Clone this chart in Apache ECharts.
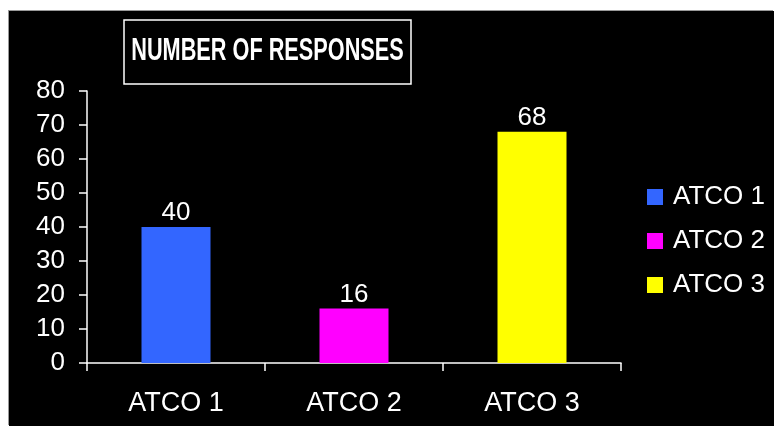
<!DOCTYPE html>
<html>
<head>
<meta charset="utf-8">
<script src="https://cdn.jsdelivr.net/npm/echarts@6/dist/echarts.min.js"></script>
<style>
  html, body { margin: 0; padding: 0; background: #fff; }
  #wrap { position: relative; width: 774px; height: 426px; background: #fff; overflow: hidden; }
  #chart { position: absolute; left: 9px; top: 11px; width: 765px; height: 415px; background: #000; box-shadow: -1px -1px 0 #999; }
</style>
</head>
<body>
<div id="wrap"><div id="chart"></div></div>
<script>
const titleText = 'NUMBER OF RESPONSES';
const categories = ['ATCO 1', 'ATCO 2', 'ATCO 3'];
const values = [40, 16, 68];
const colors = ['#3366FF', '#FF00FF', '#FFFF00'];
const yTicks = [0, 10, 20, 30, 40, 50, 60, 70, 80];

const FONT = '"Liberation Sans", Arial, sans-serif';
const chart = echarts.init(document.getElementById('chart'), null, { renderer: 'canvas' });

const series = categories.map((name, i) => ({
  name: name,
  type: 'bar',
  stack: 'all',
  barWidth: 69,
  itemStyle: { color: colors[i] },
  label: {
    show: true,
    position: 'top',
    distance: 1,
    color: '#fff',
    fontFamily: FONT,
    fontSize: 26
  },
  data: categories.map((c, j) => (j === i ? values[i] : '-'))
}));

chart.setOption({
  backgroundColor: '#000',
  animation: false,
  graphic: [
    {
      type: 'rect',
      shape: { x: 115, y: 9, width: 287, height: 64 },
      style: { fill: 'transparent', stroke: '#fff', lineWidth: 1.5 }
    },
    {
      type: 'text',
      x: 258.5,
      y: 40,
      scaleX: 0.7,
      style: {
        text: titleText,
        fill: '#fff',
        fontSize: 31,
        fontWeight: 'bold',
        fontFamily: FONT,
        align: 'center',
        verticalAlign: 'middle'
      }
    }
  ],
  legend: {
    orient: 'vertical',
    left: 633,
    top: 168,
    itemWidth: 16,
    itemHeight: 16,
    itemGap: 18,
    icon: 'rect',
    data: categories,
    textStyle: { color: '#fff', fontFamily: FONT, fontSize: 26, padding: [0, 0, 0, 5] }
  },
  grid: { left: 78, top: 80, width: 534, height: 272, containLabel: false },
  xAxis: {
    type: 'category',
    data: categories,
    axisLine: { lineStyle: { color: '#fff', width: 1.5 } },
    axisTick: { show: true, length: 8, lineStyle: { color: '#fff', width: 1.5 } },
    axisLabel: { color: '#fff', fontFamily: FONT, fontSize: 27, margin: 27 }
  },
  yAxis: {
    type: 'value',
    min: yTicks[0],
    max: yTicks[yTicks.length - 1],
    interval: yTicks[1] - yTicks[0],
    axisLine: { show: true, lineStyle: { color: '#fff', width: 1.5 } },
    axisTick: { show: true, length: 8, lineStyle: { color: '#fff', width: 1.5 } },
    splitLine: { show: false },
    axisLabel: { color: '#fff', fontFamily: FONT, fontSize: 26, margin: 22 }
  },
  series: series
});
</script>
</body>
</html>
